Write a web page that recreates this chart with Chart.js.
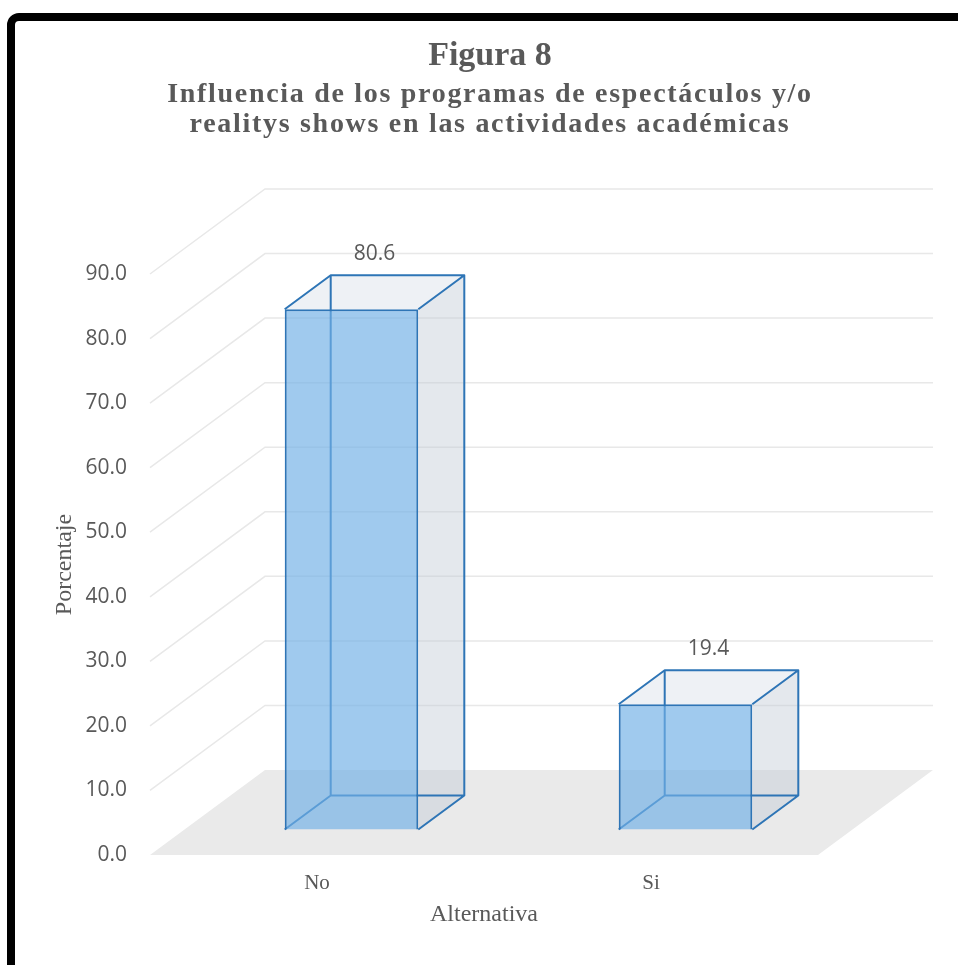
<!DOCTYPE html>
<html>
<head>
<meta charset="utf-8">
<script src="https://cdn.jsdelivr.net/npm/chart.js@4.4.1/dist/chart.umd.min.js"></script>
<style>
  html, body { margin: 0; padding: 0; background: #fff; }
  canvas { display: block; }
</style>
</head>
<body>
<canvas id="figChart" width="958" height="965"></canvas>
<script>
// data
const categories = ['No', 'Si'];
const percentages = [80.6, 19.4];
const yTicks = [0, 10, 20, 30, 40, 50, 60, 70, 80, 90];
const subtitleLines = ['Influencia de los programas de espectáculos y/o', 'realitys shows en las actividades académicas'];

const GREY = '#595959';
const SERIF = '"Liberation Serif", "Times New Roman", serif';
const SANS = '"Open Sans", "Liberation Sans", sans-serif';

// depth of the 3D box (front plane -> back wall) and where the bars sit inside it
const DX = 115, DY = -85;
const BAR_FRONT = 0.3, BAR_BACK = 0.7;

// frame around the whole figure + the spaced-out subtitle
const framePlugin = {
  id: 'frame',
  beforeDraw(chart) {
    const ctx = chart.ctx;
    ctx.save();
    ctx.strokeStyle = '#000';
    ctx.lineWidth = 8;
    ctx.beginPath();
    ctx.moveTo(11, chart.height + 20);
    ctx.lineTo(11, 25);
    ctx.arcTo(11, 17, 19, 17, 8);
    ctx.lineTo(chart.width + 20, 17);
    ctx.stroke();
    ctx.restore();
  },
  afterDraw(chart) {
    const ctx = chart.ctx;
    ctx.save();
    ctx.font = 'bold 28px ' + SERIF;
    ctx.letterSpacing = '1.7px';
    ctx.fillStyle = GREY;
    ctx.textAlign = 'center';
    ctx.textBaseline = 'alphabetic';
    subtitleLines.forEach((line, i) => ctx.fillText(line, 490, 102 + i * 30));
    ctx.restore();
  }
};

// floor, side wall, back wall and the 3D part of the boxes
const box3dPlugin = {
  id: 'box3d',
  beforeDatasetsDraw(chart) {
    const { ctx, chartArea: a, scales: { y } } = chart;
    const y0 = y.getPixelForValue(0);
    ctx.save();

    // floor
    ctx.fillStyle = '#eaeaea';
    ctx.beginPath();
    ctx.moveTo(a.left, y0);
    ctx.lineTo(a.right, y0);
    ctx.lineTo(a.right + DX, y0 + DY);
    ctx.lineTo(a.left + DX, y0 + DY);
    ctx.closePath();
    ctx.fill();

    // grid on side wall + back wall
    ctx.strokeStyle = '#e8e8e8';
    ctx.lineWidth = 1.5;
    yTicks.forEach(v => {
      if (v === 0) return;
      const py = y.getPixelForValue(v);
      ctx.beginPath();
      ctx.moveTo(a.left, py);
      ctx.lineTo(a.left + DX, py + DY);
      ctx.lineTo(a.right + DX, py + DY);
      ctx.stroke();
    });

    // back/side/top faces of each bar
    const meta = chart.getDatasetMeta(0);
    const fdx = BAR_FRONT * DX, fdy = BAR_FRONT * DY;
    const bdx = BAR_BACK * DX, bdy = BAR_BACK * DY;
    ctx.lineWidth = 2;
    ctx.lineJoin = 'round';
    meta.data.forEach(el => {
      const { x, y: top, base, width } = el.getProps(['x', 'y', 'base', 'width'], true);
      const fl = x - width / 2 + fdx, fr = x + width / 2 + fdx;
      const ft = top + fdy, fb = base + fdy;
      const bl = x - width / 2 + bdx, br = x + width / 2 + bdx;
      const bt = top + bdy, bb = base + bdy;

      // right face
      ctx.fillStyle = 'rgba(193,202,214,0.43)';
      ctx.beginPath();
      ctx.moveTo(fr, ft); ctx.lineTo(br, bt); ctx.lineTo(br, bb); ctx.lineTo(fr, fb);
      ctx.closePath(); ctx.fill();
      // top face
      ctx.fillStyle = 'rgba(215,222,232,0.43)';
      ctx.beginPath();
      ctx.moveTo(fl, ft); ctx.lineTo(bl, bt); ctx.lineTo(br, bt); ctx.lineTo(fr, ft);
      ctx.closePath(); ctx.fill();

      // edges
      ctx.strokeStyle = '#2e75b6';
      ctx.beginPath();
      ctx.moveTo(fl, ft); ctx.lineTo(bl, bt); ctx.lineTo(br, bt); ctx.lineTo(fr, ft);
      ctx.moveTo(br, bt); ctx.lineTo(br, bb); ctx.lineTo(fr, fb);
      // hidden edges, seen through the front face
      ctx.moveTo(bl, bt); ctx.lineTo(bl, bb); ctx.lineTo(br, bb);
      ctx.moveTo(bl, bb); ctx.lineTo(fl, fb);
      ctx.stroke();
    });

    // front faces are drawn by Chart.js, shifted into the bar plane
    ctx.translate(fdx, fdy);
  },
  afterDatasetsDraw(chart) {
    const ctx = chart.ctx;
    ctx.restore();

    // value labels above the boxes
    const meta = chart.getDatasetMeta(0);
    ctx.save();
    ctx.font = '21px ' + SANS;
    ctx.fillStyle = GREY;
    ctx.textAlign = 'center';
    ctx.textBaseline = 'middle';
    meta.data.forEach((el, i) => {
      const { x, y: top } = el.getProps(['x', 'y'], true);
      const cx = x + (BAR_FRONT + BAR_BACK) / 2 * DX;
      ctx.fillText(percentages[i].toFixed(1), cx, top + BAR_BACK * DY - 21);
    });
    ctx.restore();
  }
};

const ctx = document.getElementById('figChart').getContext('2d');
const figChart = new Chart(ctx, {
  type: 'bar',
  data: {
    labels: categories,
    datasets: [{
      label: 'Porcentaje',
      data: percentages,
      backgroundColor: 'rgba(113,176,230,0.67)',
      borderColor: '#2e75b6',
      borderWidth: 2,
      barPercentage: 0.4,
      categoryPercentage: 1.0,
      clip: false
    }]
  },
  options: {
    responsive: false,
    animation: false,
    layout: { padding: { left: 22, right: 0, top: 0, bottom: 30 } },
    plugins: {
      legend: { display: false },
      tooltip: { enabled: false },
      title: {
        display: true,
        text: 'Figura 8',
        color: GREY,
        font: { family: SERIF, size: 34, weight: 'bold' },
        // bottom padding leaves room for the subtitle drawn by framePlugin
        padding: { top: 36, bottom: 197.2 }
      }
    },
    scales: {
      x: {
        grid: { display: false, drawTicks: false },
        border: { display: false },
        ticks: { color: GREY, font: { family: SERIF, size: 21 }, padding: 16 },
        title: {
          display: true,
          text: 'Alternativa',
          color: GREY,
          font: { family: SERIF, size: 24 },
          padding: { top: 0, bottom: 6 }
        },
        afterFit(s) { s.height = 80; }
      },
      y: {
        min: 0,
        max: 90,
        grid: { display: false, drawTicks: false },
        border: { display: false },
        ticks: {
          stepSize: 10,
          color: GREY,
          font: { family: SANS, size: 21 },
          padding: 23,
          callback: v => Number(v).toFixed(1)
        },
        title: {
          display: true,
          text: 'Porcentaje',
          color: GREY,
          font: { family: SERIF, size: 24 },
          padding: { top: 28, bottom: 0 }
        },
        afterFit(s) { s.width = 128; }
      },
      // empty axis that only reserves room for the back wall on the right
      yRoom: {
        position: 'right',
        display: true,
        grid: { display: false, drawTicks: false },
        border: { display: false },
        ticks: { display: false },
        afterFit(s) { s.width = 140; }
      }
    }
  },
  plugins: [framePlugin, box3dPlugin]
});
</script>
</body>
</html>
